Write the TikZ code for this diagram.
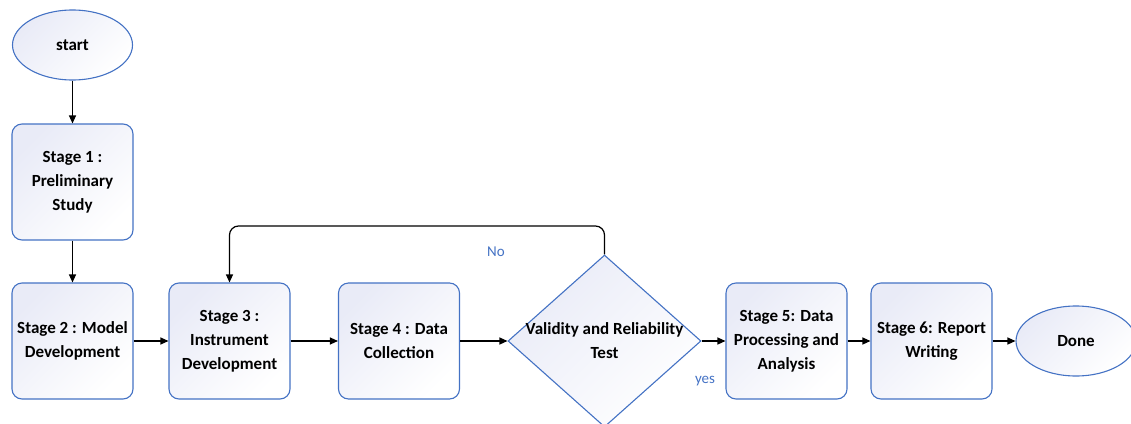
\documentclass[tikz,border=0pt]{standalone}
\usepackage{fontspec}
\setmainfont{Carlito}
\usetikzlibrary{shapes.geometric,arrows.meta}

\definecolor{edgeblue}{RGB}{68,114,196}
\definecolor{tintblue}{RGB}{233,235,247}

\tikzset{
  labelfont/.style={font=\fontsize{17}{24}\selectfont\bfseries},
  boxfill/.style={top color=tintblue, bottom color=white, shading angle=45},
  stagebox/.style={draw=edgeblue, line width=1.1pt, rounded corners=10pt, boxfill,
    minimum width=121pt, minimum height=116pt, inner sep=1pt,
    align=center, labelfont},
  terminal/.style={ellipse, draw=edgeblue, line width=1.1pt, boxfill,
    minimum width=120pt, minimum height=70pt, inner sep=0pt, labelfont},
  decision/.style={diamond, draw=edgeblue, line width=1.1pt, boxfill,
    minimum width=193pt, minimum height=172pt, inner sep=0pt},
  flow/.style={draw=black, line width=1.2pt, -{Triangle[length=8pt,width=7pt]}},
  branch/.style={text=edgeblue, font=\fontsize{15}{17}\selectfont}
}

\begin{document}
\begin{tikzpicture}[x=1pt, y=-1pt]
  \useasboundingbox (0,0) rectangle (1131,423);
  \clip (0,0) rectangle (1131,423);

  % terminals
  \node[terminal] (start) at (72.5,45) {start};
  \node[terminal] (done) at (1076,341) {Done};

  % process stages
  \node[stagebox] (st1) at (72.5,182) {Stage 1 :\\Preliminary\\Study};
  \node[stagebox] (st2) at (72.5,341) {Stage 2 : Model\\Development};
  \node[stagebox] (st3) at (229.5,341) {Stage 3 :\\Instrument\\Development};
  \node[stagebox] (st4) at (399,341) {Stage 4 : Data\\Collection};
  \node[stagebox] (st5) at (786.5,341) {Stage 5: Data\\Processing and\\Analysis};
  \node[stagebox] (st6) at (931.5,341) {Stage 6: Report\\Writing};

  % decision
  \node[decision] (vr) at (604.5,341) {};
  \node[align=center, labelfont] (vrtext) at (vr.center)
    {Validity and Reliability\\Test};

  % main flow
  \draw[flow] (start) -- (st1);
  \draw[flow] (st1) -- (st2);
  \draw[flow] (st2) -- (st3);
  \draw[flow] (st3) -- (st4);
  \draw[flow] (st4) -- (vr.west);
  \draw[flow] (vr.east) -- (st5);
  \draw[flow] (st5) -- (st6);
  \draw[flow] (st6) -- (done);

  % loop back when the test fails
  \coordinate (looptop) at (0,226);
  \draw[flow, rounded corners=9pt] (vr.north) -- (vr.north |- looptop) -| (st3.north);

  % branch labels
  \node[branch] (nolabel) at (496,252) {No};
  \node[branch] (yeslabel) at (705,381) {yes};
\end{tikzpicture}
\end{document}
